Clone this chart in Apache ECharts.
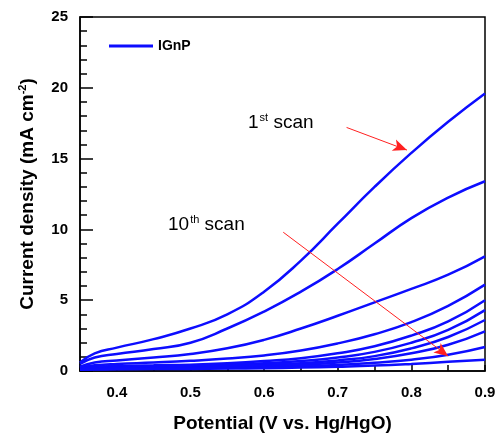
<!DOCTYPE html>
<html>
<head>
<meta charset="utf-8">
<script src="https://cdn.jsdelivr.net/npm/echarts@6/dist/echarts.min.js"></script>
<style>
  html, body {margin: 0; padding: 0; background: #fff;}
  #main {width: 501px; height: 438px;}
</style>
</head>
<body>
<div id="main"></div>
<script>
// potential (V vs. Hg/HgO)
const potential = [0.35, 0.37, 0.4, 0.45, 0.5, 0.55, 0.6, 0.65, 0.7, 0.75, 0.8, 0.85, 0.9];

// current density (mA cm-2), scan 1 .. scan 10
const scan1  = [0.6, 1.25, 1.65, 2.25, 3.0, 4.0, 5.6, 7.8, 10.4, 13.0, 15.4, 17.6, 19.6];
const scan2  = [0.5, 0.95, 1.2, 1.55, 2.0, 3.0, 4.2, 5.6, 7.2, 9.0, 10.8, 12.25, 13.4];
const scan3  = [0.3, 0.6, 0.75, 0.95, 1.2, 1.6, 2.2, 3.0, 3.9, 4.85, 5.8, 6.8, 8.1];
const scan4  = [0.25, 0.4, 0.5, 0.6, 0.72, 0.88, 1.1, 1.45, 1.95, 2.6, 3.45, 4.6, 6.1];
const scan5  = [0.2, 0.3, 0.35, 0.4, 0.45, 0.55, 0.7, 0.9, 1.25, 1.75, 2.5, 3.5, 5.0];
const scan6  = [0.18, 0.25, 0.3, 0.33, 0.37, 0.45, 0.55, 0.7, 0.95, 1.35, 2.0, 2.9, 4.3];
const scan7  = [0.15, 0.2, 0.25, 0.28, 0.3, 0.35, 0.45, 0.55, 0.75, 1.05, 1.6, 2.4, 3.6];
const scan8  = [0.12, 0.17, 0.2, 0.22, 0.25, 0.3, 0.35, 0.45, 0.6, 0.85, 1.25, 1.85, 2.8];
const scan9  = [0.1, 0.13, 0.15, 0.17, 0.2, 0.22, 0.27, 0.33, 0.42, 0.58, 0.8, 1.15, 1.7];
const scan10 = [0.08, 0.1, 0.12, 0.14, 0.15, 0.17, 0.2, 0.24, 0.3, 0.38, 0.5, 0.65, 0.8];
const scans = [scan1, scan2, scan3, scan4, scan5, scan6, scan7, scan8, scan9, scan10];

// annotation arrows, in data coordinates [potential, current]
const arrow1st = [[0.712, 17.2], [0.794, 15.6]];
const arrow10th = [[0.626, 9.8], [0.85, 1.05]];

const yTicks = [0, 5, 10, 15, 20, 25];

const chart = echarts.init(document.getElementById('main'));

const font = 'Liberation Sans, Arial, sans-serif';
const blue = '#0d0dff';

const series = scans.map((arr, i) => ({
  type: 'line',
  name: 'IGnP',
  data: potential.map((p, k) => [p, arr[k]]),
  smooth: 0.5,
  symbol: 'none',
  lineStyle: {color: blue, width: 2.5},
  itemStyle: {color: blue},
  z: 3,
  markLine: i === 0 ? {
    silent: true,
    symbol: ['none', 'arrow'],
    symbolSize: [9, 14],
    label: {show: false},
    lineStyle: {color: '#ff2020', width: 1, type: 'solid'},
    data: [
      [{coord: arrow1st[0]}, {coord: arrow1st[1]}],
      [{coord: arrow10th[0]}, {coord: arrow10th[1]}]
    ]
  } : undefined
}));

const option = {
  animation: false,
  grid: {left: 80, top: 17, right: 16, bottom: 66, show: true, borderColor: '#000', borderWidth: 1.5},
  legend: {
    data: [{name: 'IGnP', icon: 'rect'}],
    left: 104, top: 34,
    itemWidth: 44, itemHeight: 3, itemGap: 6,
    textStyle: {fontFamily: font, fontWeight: 'bold', fontSize: 14, color: '#000'}
  },
  xAxis: {
    type: 'value',
    min: 0.35, max: 0.9, interval: 0.05,
    name: 'Potential (V vs. Hg/HgO)',
    nameLocation: 'middle', nameGap: 43,
    nameTextStyle: {fontFamily: font, fontWeight: 'bold', fontSize: 19, color: '#000'},
    axisLine: {lineStyle: {color: '#000', width: 1.5}},
    axisTick: {inside: true, length: 6, lineStyle: {color: '#000', width: 1.5}},
    splitLine: {show: false},
    axisLabel: {
      fontFamily: font, fontWeight: 'bold', fontSize: 15, color: '#000', margin: 14,
      formatter: v => (Math.round(v * 100) % 10 === 0 ? v.toFixed(1) : '')
    }
  },
  yAxis: {
    type: 'value',
    min: yTicks[0], max: yTicks[yTicks.length - 1], interval: 5,
    name: 'Current density (mA cm{sup|-2})',
    nameLocation: 'middle', nameGap: 42,
    nameTextStyle: {
      fontFamily: font, fontWeight: 'bold', fontSize: 19, color: '#000',
      rich: {sup: {fontFamily: font, fontWeight: 'bold', fontSize: 11, color: '#000', padding: [0, 0, 10, 0]}}
    },
    axisLine: {lineStyle: {color: '#000', width: 1.5}},
    axisTick: {inside: true, length: 13, lineStyle: {color: '#000', width: 1.5}},
    minorTick: {show: true, splitNumber: 5, length: 7, lineStyle: {color: '#000', width: 1.5}},
    splitLine: {show: false},
    axisLabel: {fontFamily: font, fontWeight: 'bold', fontSize: 15, color: '#000', margin: 12}
  },
  graphic: [
    {
      type: 'text', left: 248, top: 112,
      style: {
        text: '{n|1}{s|st}{n| scan}',
        rich: {
          n: {fontFamily: font, fontSize: 19, color: '#111'},
          s: {fontFamily: font, fontSize: 11, color: '#111', padding: [0, 0, 10, 1]}
        }
      }
    },
    {
      type: 'text', left: 168, top: 214,
      style: {
        text: '{n|10}{s|th}{n| scan}',
        rich: {
          n: {fontFamily: font, fontSize: 19, color: '#111'},
          s: {fontFamily: font, fontSize: 11, color: '#111', padding: [0, 0, 10, 1]}
        }
      }
    }
  ],
  series: series
};

chart.setOption(option);
</script>
</body>
</html>
